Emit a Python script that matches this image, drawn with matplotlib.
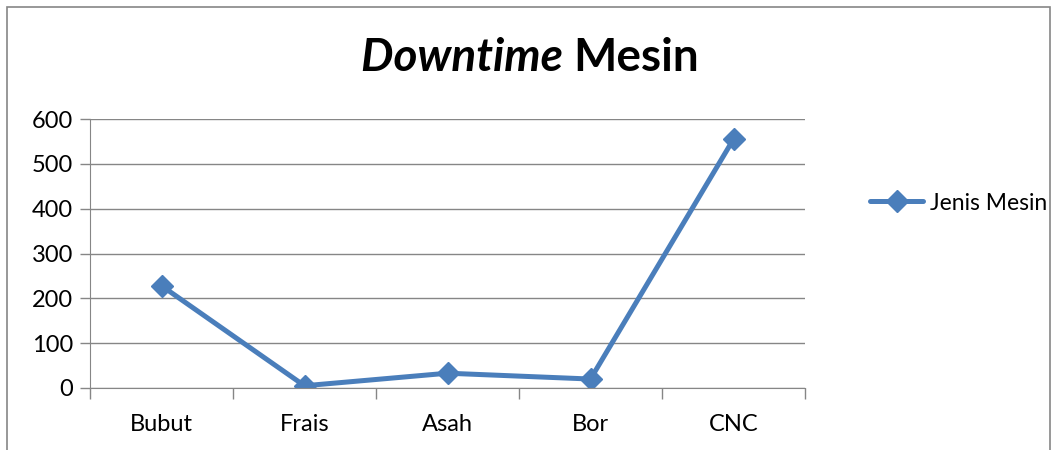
import matplotlib.pyplot as plt
from matplotlib.patches import Rectangle

# data
mesin = ["Bubut", "Frais", "Asah", "Bor", "CNC"]
downtime = [228, 5, 33, 20, 555]
y_ticks = [0, 100, 200, 300, 400, 500, 600]

plt.rcParams["font.family"] = ["Lato", "DejaVu Sans"]

W, H = 1053, 450
fig = plt.figure(figsize=(W / 100, H / 100), dpi=100)

# chart border (Excel style)
fig.patches.append(Rectangle((7 / W, -0.1), (1050 - 7) / W, (H - 7) / H + 0.1,
                             transform=fig.transFigure, fill=False,
                             edgecolor="#868686", linewidth=1.2))

ax = fig.add_axes([90 / W, (H - 388) / H, (805 - 90) / W, (388 - 119) / H])
x = list(range(len(mesin)))
ax.plot(x, downtime, color="#4A7EBB", linewidth=3.6, marker="D",
        markersize=11, label="Jenis Mesin", solid_capstyle="round")

ax.set_ylim(0, 600)
ax.set_xlim(-0.5, len(mesin) - 0.5)
ax.set_yticks(y_ticks)
ax.set_xticks([i - 0.5 for i in range(len(mesin) + 1)])
ax.set_xticklabels([])
ax.set_xticks(x, minor=True)
ax.set_xticklabels(mesin, minor=True)
ax.tick_params(axis="x", which="major", length=8, color="#868686", width=1)
ax.tick_params(axis="x", which="minor", length=0, labelsize=17, pad=19)
ax.tick_params(axis="y", length=7, color="#868686", width=1, labelsize=17, pad=5)
ax.grid(axis="y", color="#868686", linewidth=1)
ax.set_axisbelow(True)
for s in ["top", "right"]:
    ax.spines[s].set_visible(False)
ax.spines["left"].set_color("#868686")
ax.spines["bottom"].set_color("#868686")

# title made of two parts: italic bold + bold
title_y = 1 - 58 / H
fig.text(573 / W, title_y, "Downtime ", ha="right", va="center",
         fontsize=33, fontweight="bold", fontstyle="italic")
fig.text(573 / W, title_y, "Mesin", ha="left", va="center",
         fontsize=33, fontweight="bold")

ax.legend(loc="center left", bbox_to_anchor=(868 / W, 1 - 203 / H),
          bbox_transform=fig.transFigure, frameon=False, fontsize=16.5,
          handlelength=2.3, handletextpad=0.3, borderaxespad=0,
          borderpad=0.1)

fig.savefig("out.png", dpi=100)
